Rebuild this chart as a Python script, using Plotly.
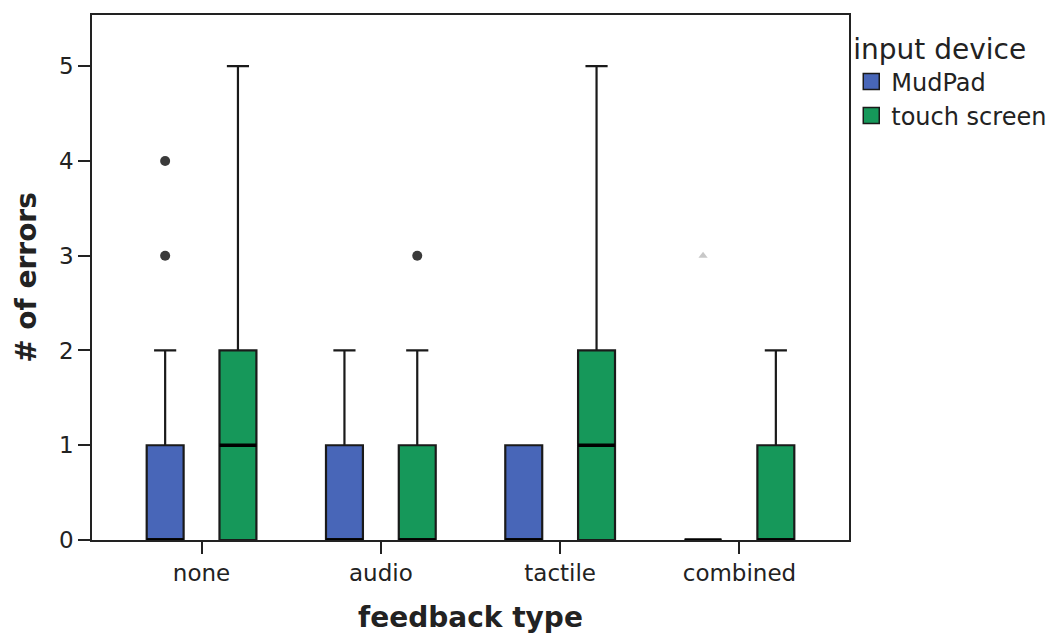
import plotly.graph_objects as go

# Feedback conditions on the x axis
categories = ["none", "audio", "tactile", "combined"]

# Box statistics per input device (one value per feedback type)
mudpad_q1 = [0, 0, 0, 0]
mudpad_median = [0, 0, 0, 0]
mudpad_q3 = [1, 1, 1, 0]
mudpad_low = [0, 0, 0, 0]
mudpad_high = [2, 2, 1, 0]

touch_q1 = [0, 0, 0, 0]
touch_median = [1, 0, 1, 0]
touch_q3 = [2, 1, 2, 1]
touch_low = [0, 0, 0, 0]
touch_high = [5, 2, 5, 2]

# Outliers: (category index, value)
mudpad_outliers = [(0, 3), (0, 4)]
touch_outliers = [(1, 3)]
mudpad_extremes = [(3, 3)]

y_ticks = [0, 1, 2, 3, 4, 5]

BLUE = "#4866b8"
GREEN = "#16985a"
OFFSET = 0.203
BOX_W = 0.206
FONT = "DejaVu Sans"

idx = list(range(len(categories)))
fig = go.Figure()


def add_group(name, color, side, q1, med, q3, lo, hi):
    xs = [i + side * OFFSET for i in idx]
    fig.add_trace(go.Box(
        name=name, x=xs, q1=q1, median=med, q3=q3,
        lowerfence=lo, upperfence=hi,
        width=BOX_W, whiskerwidth=0.6,
        fillcolor=color, line=dict(color="#1a1a1a", width=2.2),
        boxpoints=False, hoverinfo="skip", showlegend=False,
    ))
    # thicker median bars
    mx, my = [], []
    for x, m in zip(xs, med):
        mx += [x - BOX_W / 2, x + BOX_W / 2, None]
        my += [m, m, None]
    fig.add_trace(go.Scatter(
        x=mx, y=my, mode="lines", line=dict(color="black", width=3.4),
        showlegend=False, hoverinfo="skip",
    ))
    # square swatch for the legend
    fig.add_trace(go.Scatter(
        x=[None], y=[None], mode="markers", name=name,
        marker=dict(symbol="square", size=22, color=color,
                    line=dict(color="#1a1a1a", width=1.5)),
    ))


add_group("MudPad", BLUE, -1, mudpad_q1, mudpad_median, mudpad_q3, mudpad_low, mudpad_high)
add_group("touch screen", GREEN, 1, touch_q1, touch_median, touch_q3, touch_low, touch_high)

fig.add_trace(go.Scatter(
    x=[c - OFFSET for c, _ in mudpad_outliers] + [c + OFFSET for c, _ in touch_outliers],
    y=[v for _, v in mudpad_outliers] + [v for _, v in touch_outliers],
    mode="markers", marker=dict(symbol="circle", size=10, color="#3a3a3a"),
    showlegend=False, hoverinfo="skip",
))
fig.add_trace(go.Scatter(
    x=[c - OFFSET for c, _ in mudpad_extremes],
    y=[v for _, v in mudpad_extremes],
    mode="markers", marker=dict(symbol="triangle-up", size=8, color="#c8c8c8"),
    showlegend=False, hoverinfo="skip",
))

fig.update_layout(
    width=1064, height=642,
    margin=dict(l=92, r=212, t=15, b=102),
    plot_bgcolor="white", paper_bgcolor="white",
    font=dict(family=FONT, size=23, color="#222"),
    showlegend=True,
    legend=dict(
        title=dict(text="input device", font=dict(size=28, color="#222")),
        x=1.003, xanchor="left", y=0.985, yanchor="top",
        font=dict(size=24, color="#222"), itemwidth=30, tracegroupgap=0,
        bgcolor="rgba(0,0,0,0)",
    ),
    xaxis=dict(
        range=[-0.611, 3.611], tickvals=idx, ticktext=categories,
        showgrid=False, zeroline=False, showline=True, linecolor="#222",
        linewidth=1.5, mirror=True, ticks="outside", ticklen=12,
        tickcolor="#222", tickwidth=1.5,
        title=dict(text="<b>feedback type</b>", font=dict(size=28), standoff=22),
    ),
    yaxis=dict(
        range=[0, 5.54], tickvals=y_ticks,
        showgrid=False, zeroline=False, showline=True, linecolor="#222",
        linewidth=1.5, mirror=True, ticks="outside", ticklen=12,
        tickcolor="#222", tickwidth=1.5,
        title=dict(text="<b># of errors</b>", font=dict(size=28), standoff=14),
    ),
)

fig.write_html("out.html")
